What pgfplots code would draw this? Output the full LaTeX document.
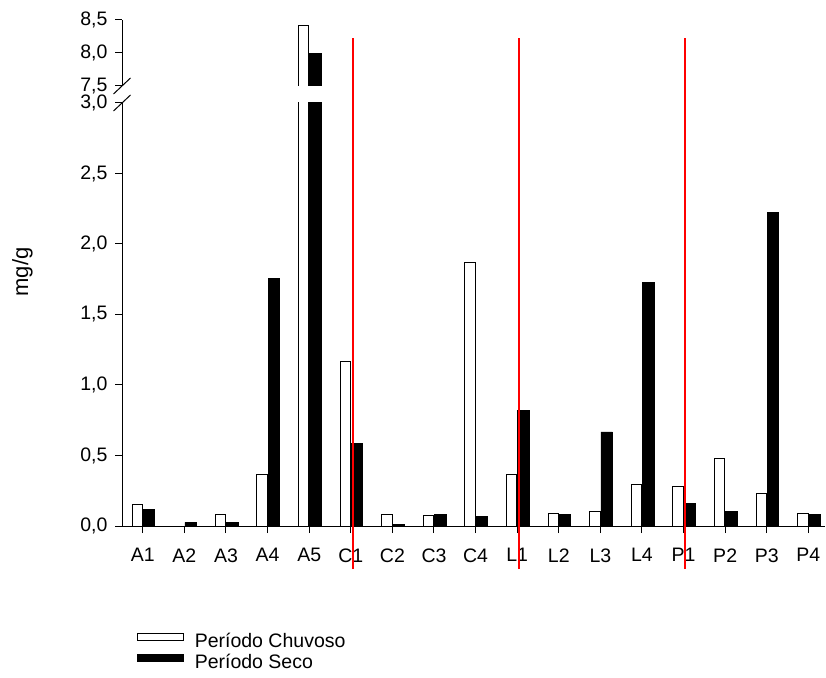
\documentclass[border=0pt]{standalone}
\usepackage{fontspec}
\setmainfont{Liberation Sans}
\usepackage{pgfplots}
\pgfplotsset{compat=1.18}
\usepackage{pgfplotstable}

\pgfplotstableread{
x chuv seco
0 0.15 0.12
1 nan 0.025
2 0.083 0.025
3 0.363 1.755
4 8.41 8.0
5 1.165 0.585
6 0.083 0.01
7 0.073 0.085
8 1.872 0.067
9 0.363 0.82
10 0.092 0.08
11 0.104 0.667
12 0.292 1.73
13 0.28 0.158
14 0.481 0.106
15 0.231 2.224
16 0.092 0.083
}\data

\newcommand\lblfont{\fontsize{19.5}{23}\selectfont}

\pgfplotsset{
  myax/.style={
    scale only axis, width=703pt, xmin=-0.5, xmax=16.4,
    axis line style={line width=1pt, black},
    tick style={line width=1pt, black},
    major tick length=7pt, tick align=outside,
    xticklabel style={font=\lblfont},
    yticklabel style={font=\lblfont, xshift=-4pt},
    yticklabel={\pgfmathprintnumber{\tick}},
    /pgf/number format/use comma,
    /pgf/number format/fixed,
    /pgf/number format/fixed zerofill,
    /pgf/number format/precision=1,
    /pgf/number format/assume math mode=true,
  },
  whitebar/.style={ybar, bar width=10.5pt, bar shift=-5.5pt, draw=black, fill=white, line width=0.9pt},
  blackbar/.style={ybar, bar width=11.5pt, bar shift=6.2pt, draw=black, fill=black, line width=0.6pt},
}

\begin{document}
\begin{tikzpicture}[x=1pt,y=1pt]
\path[use as bounding box] (0,0) rectangle (826,677);

% upper part of the broken axis
\begin{axis}[myax, name=upper, at={(122pt,591pt)}, anchor=south west,
  height=66pt, ymin=7.5, ymax=8.5, ytick={7.5,8,8.5},
  axis y line*=left, axis x line=none, xtick=\empty,
  restrict y to domain=7.5:10]
  \addplot[whitebar] table[x=x,y=chuv]{\data};
  \addplot[blackbar] table[x=x,y=seco]{\data};
\end{axis}

% lower part
\begin{axis}[myax, name=lower, at={(122pt,151pt)}, anchor=south west,
  height=423pt, ymin=0, ymax=3, ytick={0,0.5,1,1.5,2,2.5,3},
  axis x line*=bottom, axis y line*=left,
  xtick={0,...,16},
  xticklabels={A1,A2,A3,A4,A5,C1,C2,C3,C4,L1,L2,L3,L4,P1,P2,P3,P4},
  xticklabel style={yshift=-12pt},
  ylabel={mg/g},
  ylabel style={at={(axis description cs:-0.1415,0.6005)}, anchor=center, font=\fontsize{22}{26}\selectfont},
  legend cell align=left,
  legend style={at={(axis description cs:0.0209,-0.2529)}, anchor=north west,
    draw=none, fill=none, inner sep=0pt, row sep=3pt,
    font=\lblfont,
    nodes={inner sep=0pt, text height=14pt, text depth=4pt}},
  ]
  \addplot[whitebar, legend image code/.code={\draw[black, fill=white, line width=0.9pt] (0pt,2pt) rectangle (46pt,8.5pt); \path (57pt,0pt);}] table[x=x,y=chuv]{\data};
  \addlegendentry{Período Chuvoso}
  \addplot[blackbar, legend image code/.code={\draw[black, fill=black, line width=0.6pt] (0pt,2pt) rectangle (46pt,8.5pt); \path (57pt,0pt);}] table[x=x,y=seco]{\data};
  \addlegendentry{Período Seco}
\end{axis}

% red separators
\begin{axis}[at={(122pt,151pt)}, anchor=south west, scale only axis,
  width=703pt, height=423pt, xmin=-0.5, xmax=16.4, ymin=0, ymax=3,
  hide axis, clip=false]
  \addplot[color=red, line width=2pt] coordinates {(5.05,-0.305) (5.05,3.461)};
  \addplot[color=red, line width=2pt] coordinates {(9.05,-0.305) (9.05,3.461)};
  \addplot[color=red, line width=2pt] coordinates {(13.04,-0.305) (13.04,3.461)};
\end{axis}

% axis break marks
\draw[line width=1pt] ([xshift=-8.5pt,yshift=-8pt]upper.south west) -- ([xshift=8.5pt,yshift=8pt]upper.south west);
\draw[line width=1pt] ([xshift=-8.5pt,yshift=-8pt]lower.north west) -- ([xshift=8.5pt,yshift=8pt]lower.north west);
\end{tikzpicture}
\end{document}
